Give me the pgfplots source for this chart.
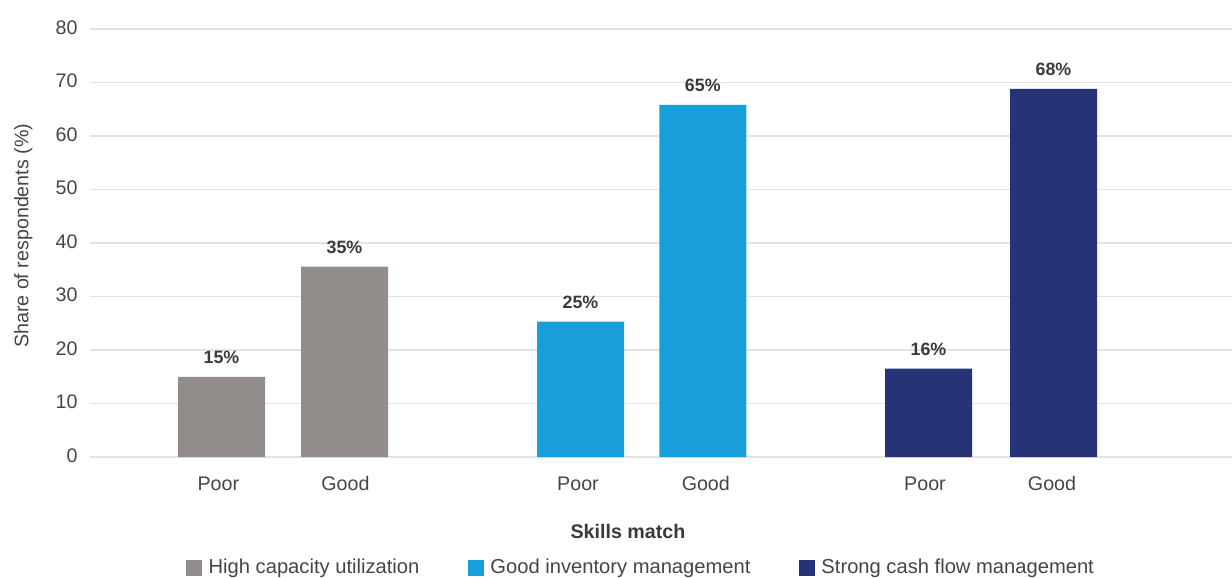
\documentclass[border=0pt]{standalone}
\usepackage{fontspec}
\setmainfont{Liberation Sans}
\usepackage{pgfplots}
\pgfplotsset{compat=1.18}
\definecolor{cgrey}{HTML}{928C8B}
\definecolor{cblue}{HTML}{189FDA}
\definecolor{cnavy}{HTML}{273377}
\definecolor{ctext}{HTML}{454545}
\definecolor{clab}{HTML}{3A3A3A}
\definecolor{cgrid}{HTML}{E3E3E3}
\begin{document}
\begin{tikzpicture}
\useasboundingbox (-54pt,-72pt) rectangle (685.2pt,274.2pt);
\begin{axis}[
  at={(0pt,0pt)}, anchor=south west,
  scale only axis, width=685.2pt, height=256.8pt,
  xmin=90, xmax=1232, ymin=0, ymax=80,
  enlargelimits=false,
  axis line style={draw=none},
  major tick length=0pt,
  ytick={0,10,...,80},
  xtick={218.4,345.5,578,705.8,925,1052},
  xticklabels={Poor,Good,Poor,Good,Poor,Good},
  ymajorgrids, major grid style={color=cgrid, line width=0.9pt},
  /pgf/number format/assume math mode=true,
  tick label style={font=\fontsize{11.8}{14}\selectfont, text=ctext},
  yticklabel style={xshift=-4pt, yshift=1pt},
  xticklabel style={anchor=base, yshift=-19.8pt},
  ylabel={Share of respondents (\%)},
  ylabel style={at={(axis description cs:-0.0584,0.5168)}, anchor=center, font=\fontsize{11.8}{14}\selectfont, text=ctext},
  xlabel={\textbf{Skills match}},
  xlabel style={at={(axis description cs:0.4711,-0.1893)}, anchor=base, font=\fontsize{11.8}{14}\selectfont, text=clab},
  point meta=explicit symbolic,
  nodes near coords,
  nodes near coords style={font=\bfseries\fontsize{10.7}{12}\selectfont, text=clab, anchor=south, yshift=4.2pt},
  legend columns=3,
  legend style={draw=none, fill=none, at={(axis description cs:0.0794,-0.2582)}, anchor=west,
    font=\fontsize{12.1}{14}\selectfont, text=ctext,
    /tikz/every even column/.append style={column sep=27pt}},
  legend cell align=left,
  legend image code/.code={\fill[#1, draw=none] (0pt,-4.8pt) rectangle (9.6pt,4.8pt); \path (11.6pt,0pt);},
]
\addplot[ybar, bar width=87, bar shift=0pt, fill=cgrey, draw=none]
  coordinates {(221.5,15.0) [15\%] (344.5,35.6) [35\%]};
\addlegendentry{High capacity utilization}
\addplot[ybar, bar width=87, bar shift=0pt, fill=cblue, draw=none]
  coordinates {(580.5,25.3) [25\%] (702.8,65.8) [65\%]};
\addlegendentry{Good inventory management}
\addplot[ybar, bar width=87, bar shift=0pt, fill=cnavy, draw=none]
  coordinates {(928.5,16.5) [16\%] (1053.5,68.8) [68\%]};
\addlegendentry{Strong cash flow management}
\end{axis}
\end{tikzpicture}
\end{document}
